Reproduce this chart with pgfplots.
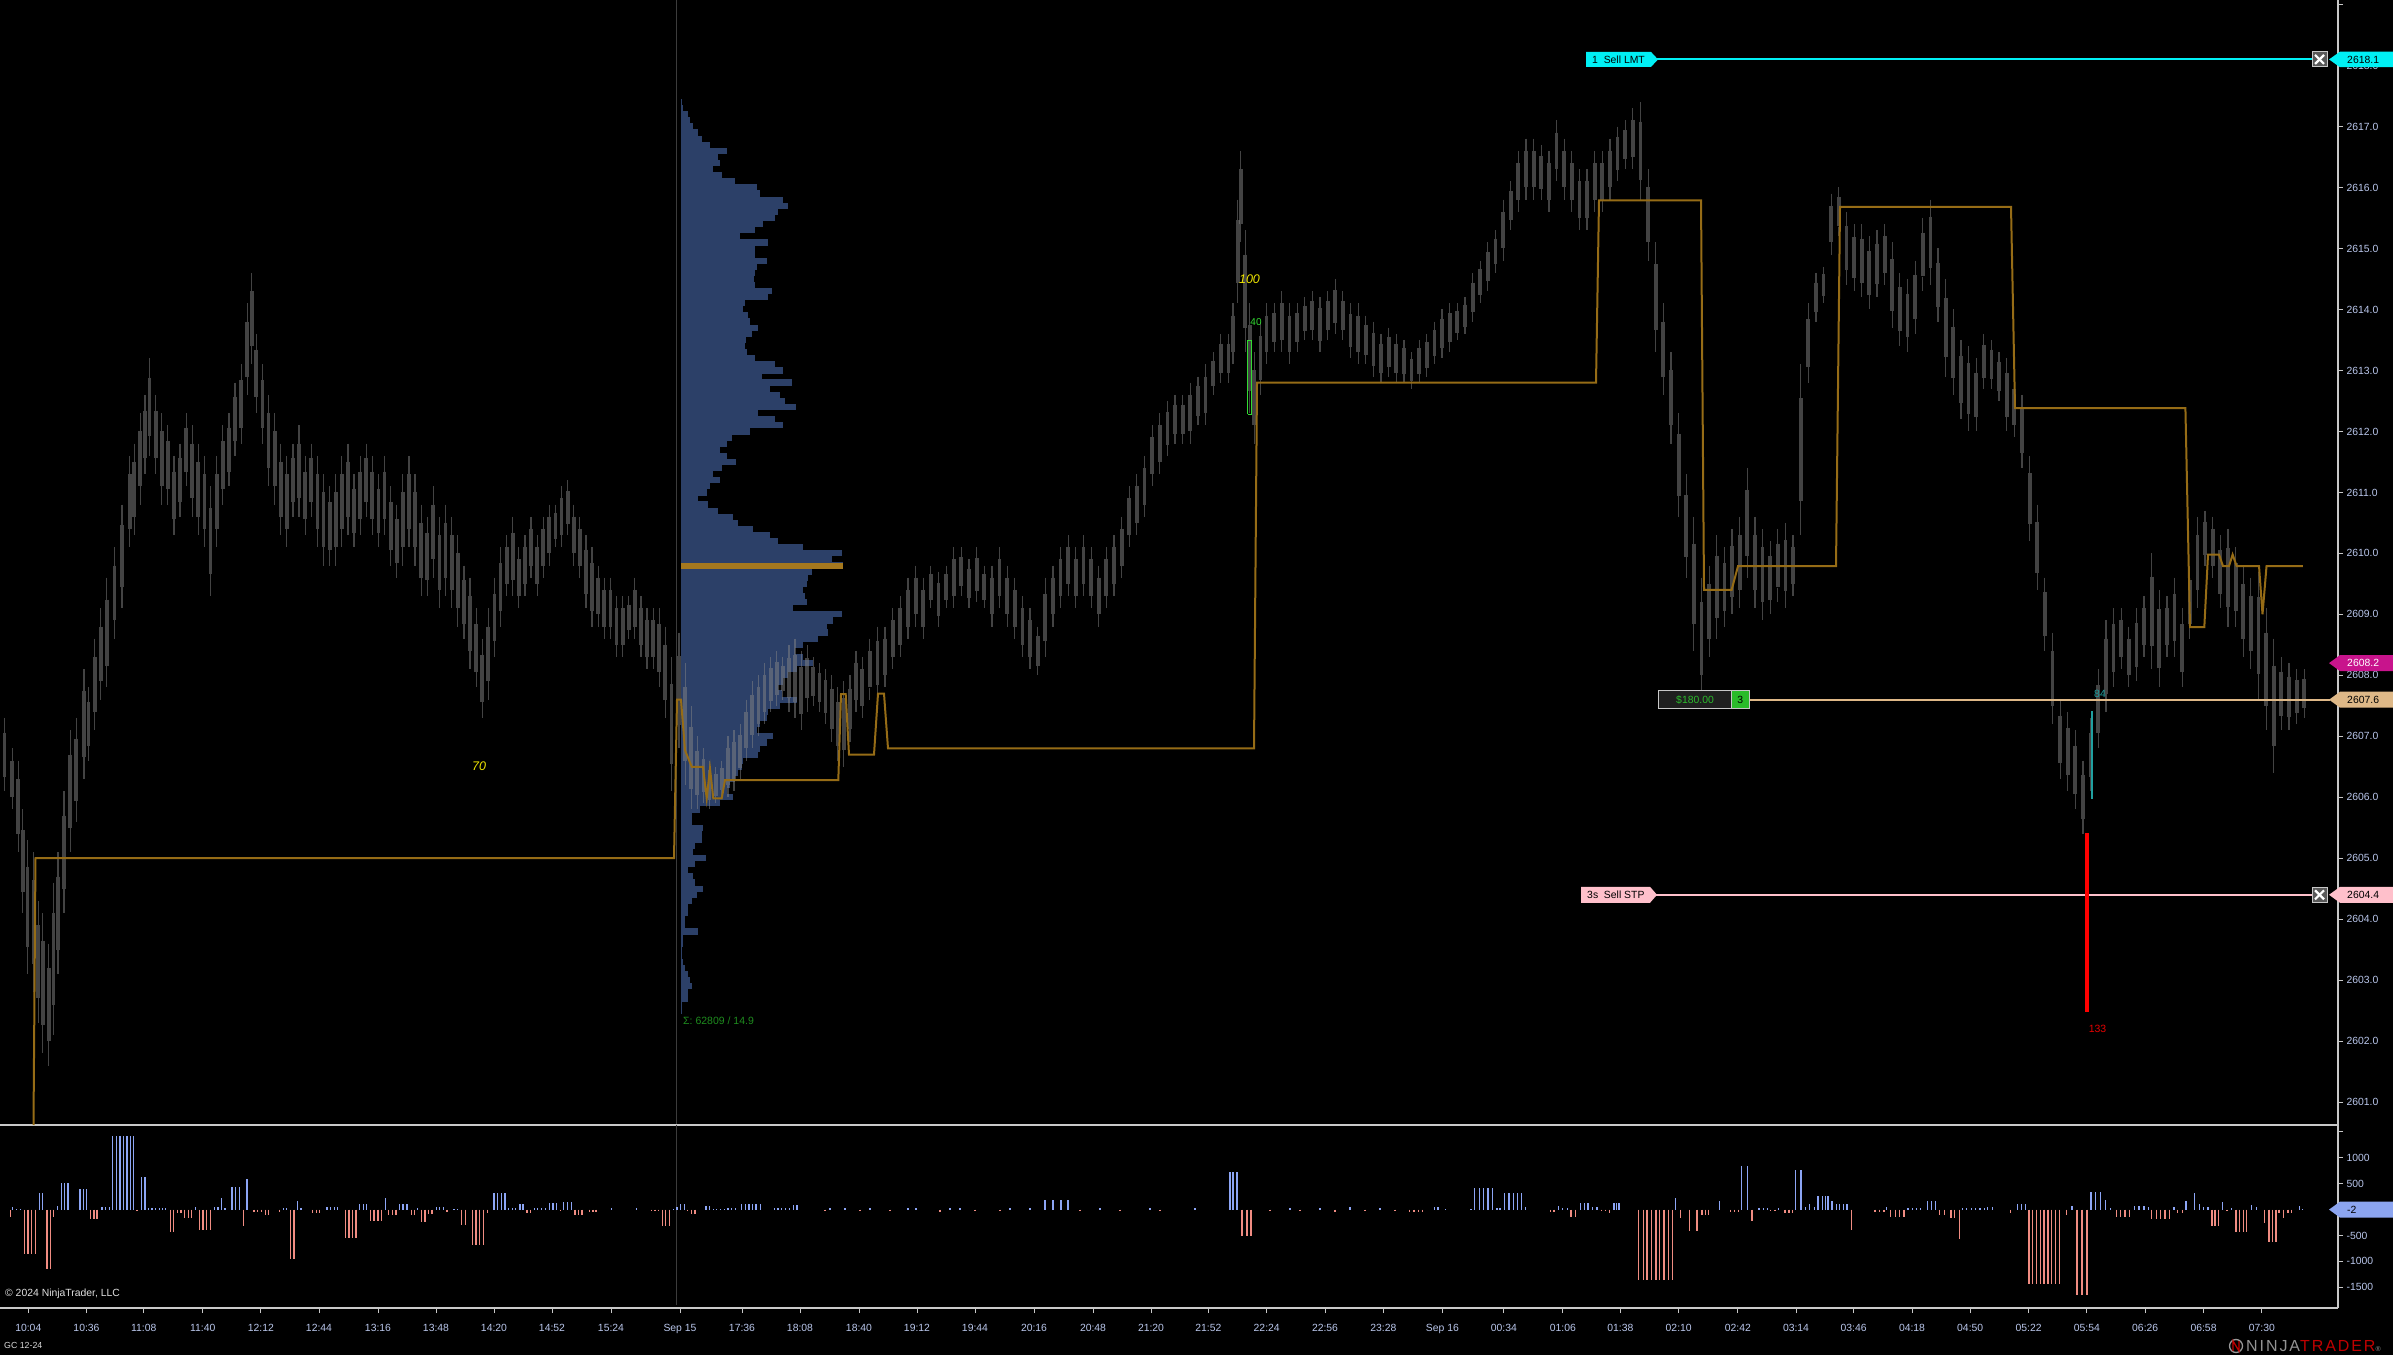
\documentclass[border=0pt]{standalone}
\usepackage{pgfplots}
\pgfplotsset{compat=1.18}
\usepackage{pgfplotstable}
\usepackage{fontspec}
\setmainfont{Liberation Sans}
\newfontfamily\logofont{Liberation Sans}[LetterSpace=12]
\definecolor{axc}{RGB}{200,200,200}
\definecolor{labc}{RGB}{185,198,235}
\definecolor{candle}{RGB}{135,135,135}
\definecolor{prof}{RGB}{44,64,104}
\definecolor{poc}{RGB}{165,120,30}
\definecolor{vwap}{RGB}{150,108,22}
\definecolor{dpos}{RGB}{140,165,245}
\definecolor{dneg}{RGB}{240,140,130}
\definecolor{lmt}{RGB}{0,240,245}
\definecolor{stp}{RGB}{255,192,203}
\definecolor{posc}{RGB}{222,184,135}
\definecolor{mag}{RGB}{200,20,140}
\definecolor{dtag}{RGB}{140,165,240}
\definecolor{sepc}{RGB}{60,60,60}
\definecolor{yel}{RGB}{240,230,0}
\definecolor{grn}{RGB}{50,220,50}
\definecolor{sig}{RGB}{30,140,30}
\definecolor{tealc}{RGB}{32,160,160}
\newcommand{\tickfont}{\fontsize{10.4}{12}\selectfont}

\pgfplotstableread{
x h l
3 2607.3 2606.1
8 2606.8 2605.8
12 2606.6 2605.1
15 2605.8 2604.1
18 2605.3 2603.1
22 2605.1 2602.8
25 2604.3 2602.3
28 2604.1 2601.8
32 2603.6 2601.6
35 2604.6 2602.1
38 2605.1 2603.1
42 2606.1 2604.1
46 2607.1 2605.1
50 2607.3 2605.6
55 2608.1 2606.3
58 2607.8 2606.6
62 2608.6 2607.1
66 2609.1 2607.6
70 2609.6 2607.8
75 2610.1 2608.6
80 2610.8 2609.1
85 2611.6 2610.1
88 2611.8 2610.3
92 2612.3 2610.8
95 2612.6 2611.3
98 2613.2 2611.6
102 2612.6 2611.3
106 2612.3 2610.8
110 2612.1 2610.8
114 2611.6 2610.3
118 2611.8 2610.6
122 2612.3 2611.1
126 2612.1 2610.6
130 2611.8 2610.3
134 2611.6 2610.1
138 2611.1 2609.3
142 2611.6 2610.1
146 2612.1 2610.8
150 2612.3 2611.1
154 2612.8 2611.6
158 2613.1 2611.8
162 2614.1 2612.6
165 2614.6 2613.1
168 2613.6 2612.3
172 2613.1 2611.8
176 2612.6 2611.1
180 2612.3 2610.8
184 2611.8 2610.3
188 2611.6 2610.1
192 2611.8 2610.6
196 2612.1 2610.6
200 2611.6 2610.3
204 2611.8 2610.6
208 2611.6 2610.1
212 2611.3 2609.8
216 2611.1 2609.8
220 2611.3 2609.8
224 2611.6 2610.1
228 2611.8 2610.3
232 2611.3 2610.1
236 2611.6 2610.3
240 2611.8 2610.6
244 2611.6 2610.3
248 2611.3 2610.1
252 2611.6 2610.3
256 2611.1 2609.8
260 2610.8 2609.6
264 2611.3 2609.8
268 2611.6 2610.1
272 2611.3 2609.8
276 2610.8 2609.3
280 2610.6 2609.3
284 2611.1 2609.6
288 2610.6 2609.1
292 2610.8 2609.3
296 2610.6 2609.1
300 2610.3 2608.8
304 2609.8 2608.6
308 2609.6 2608.1
312 2609.1 2607.8
316 2608.6 2607.3
320 2609.1 2607.6
324 2609.6 2608.3
328 2610.1 2608.8
332 2610.3 2609.3
336 2610.6 2609.3
340 2610.1 2609.1
344 2610.3 2609.3
348 2610.6 2609.6
352 2610.3 2609.3
356 2610.6 2609.6
360 2610.8 2609.8
364 2610.8 2610.1
368 2611.1 2610.1
372 2611.2 2610.3
376 2610.8 2609.8
380 2610.6 2609.6
384 2610.3 2609.1
388 2610.1 2608.8
392 2609.8 2608.8
396 2609.6 2608.6
400 2609.6 2608.6
404 2609.3 2608.3
408 2609.3 2608.3
412 2609.3 2608.6
416 2609.6 2608.6
420 2609.3 2608.3
424 2609.1 2608.1
428 2609.1 2608.1
432 2609.1 2607.8
436 2608.8 2607.3
440 2608.3 2606.1
445 2608.7 2606.8
449 2608.2 2606.2
453 2607.5 2605.8
457 2607.0 2605.8
461 2606.8 2605.9
465 2606.6 2605.8
469 2606.5 2605.9
473 2606.6 2606.0
477 2607.0 2606.0
481 2607.1 2606.1
485 2607.2 2606.3
489 2607.6 2606.6
493 2607.9 2606.8
497 2608.0 2607.0
501 2608.2 2607.2
505 2608.3 2607.4
509 2608.4 2607.5
513 2608.3 2607.6
517 2608.5 2607.4
521 2608.6 2607.3
525 2608.4 2607.1
529 2608.5 2607.4
533 2608.3 2607.5
537 2608.2 2607.4
541 2608.1 2607.2
545 2608.0 2606.9
549 2607.8 2606.6
553 2607.9 2606.5
557 2608.0 2606.9
561 2608.4 2607.4
565 2608.3 2607.3
570 2608.6 2607.6
575 2608.8 2607.6
580 2608.8 2607.8
585 2609.1 2608.1
590 2609.3 2608.3
595 2609.6 2608.6
600 2609.8 2608.8
605 2609.6 2608.6
610 2609.8 2609.1
615 2609.7 2608.8
620 2609.8 2609.1
625 2610.1 2609.1
630 2610.1 2609.3
635 2609.9 2609.1
640 2610.1 2609.2
645 2609.8 2609.1
650 2609.8 2608.8
655 2610.1 2609.1
660 2609.8 2608.8
665 2609.6 2608.6
670 2609.3 2608.3
675 2609.1 2608.1
680 2608.8 2608.0
685 2609.6 2608.3
690 2609.8 2608.8
695 2610.1 2609.1
700 2610.3 2609.3
705 2610.1 2609.1
710 2610.3 2609.3
715 2610.1 2609.1
720 2609.8 2608.8
725 2610.1 2609.1
730 2610.3 2609.3
735 2610.6 2609.6
740 2611.1 2610.1
745 2611.3 2610.3
750 2611.6 2610.6
755 2612.1 2611.1
760 2612.3 2611.3
765 2612.5 2611.6
770 2612.6 2611.8
775 2612.6 2611.8
780 2612.8 2611.8
785 2612.9 2612.1
790 2613.1 2612.1
795 2613.3 2612.6
800 2613.6 2612.8
805 2613.6 2612.8
808 2614.1 2613.1
811 2615.8 2614.1
813 2616.6 2615.1
816 2615.3 2613.3
819 2614.1 2612.3
822 2613.3 2611.8
826 2613.8 2612.6
830 2614.1 2613.1
835 2614.1 2613.3
840 2614.3 2613.3
845 2614.1 2613.1
850 2614.1 2613.3
855 2614.2 2613.5
860 2614.3 2613.5
865 2614.2 2613.3
870 2614.3 2613.5
875 2614.5 2613.6
880 2614.3 2613.5
885 2614.1 2613.2
890 2614.1 2613.1
895 2613.9 2613.1
900 2613.8 2612.9
905 2613.6 2612.8
910 2613.7 2612.9
915 2613.6 2612.8
920 2613.5 2612.8
925 2613.3 2612.7
930 2613.5 2612.8
935 2613.6 2612.9
940 2613.8 2613.1
945 2614.0 2613.2
950 2614.1 2613.3
955 2614.1 2613.5
960 2614.2 2613.6
965 2614.6 2613.8
970 2614.8 2614.1
975 2615.1 2614.3
980 2615.3 2614.6
985 2615.8 2614.8
990 2616.1 2615.3
995 2616.6 2615.6
1000 2616.8 2615.8
1005 2616.8 2615.8
1010 2616.7 2615.8
1015 2616.6 2615.6
1020 2617.1 2616.1
1025 2616.8 2615.8
1030 2616.6 2615.6
1035 2616.3 2615.3
1040 2616.3 2615.3
1045 2616.6 2615.6
1050 2616.6 2615.6
1055 2616.8 2615.8
1060 2617.0 2616.1
1065 2617.1 2616.3
1070 2617.3 2616.3
1075 2617.4 2615.8
1080 2616.3 2614.8
1085 2615.1 2613.3
1090 2614.1 2612.6
1095 2613.3 2611.8
1100 2612.3 2610.6
1105 2611.3 2609.6
1110 2610.6 2608.4
1115 2609.6 2607.6
1120 2609.8 2608.3
1125 2610.3 2608.6
1130 2610.1 2608.8
1135 2610.4 2609.0
1140 2610.6 2609.1
1145 2611.4 2609.6
1150 2610.6 2609.1
1155 2610.4 2608.9
1160 2610.2 2609.0
1165 2610.4 2609.2
1170 2610.5 2609.1
1175 2610.3 2609.3
1180 2613.1 2610.3
1185 2614.1 2612.8
1190 2614.6 2613.8
1195 2614.7 2614.1
1200 2615.9 2614.9
1205 2616.0 2615.2
1210 2615.6 2614.4
1215 2615.4 2614.3
1220 2615.4 2614.2
1225 2615.2 2614.0
1230 2615.3 2614.2
1235 2615.4 2614.4
1240 2615.1 2613.7
1245 2614.6 2613.4
1250 2614.5 2613.3
1255 2614.8 2613.6
1260 2615.5 2614.3
1265 2615.8 2614.4
1270 2615.0 2613.8
1275 2614.5 2612.9
1280 2614.0 2612.6
1285 2613.5 2612.2
1290 2613.4 2612.0
1295 2613.2 2612.0
1300 2613.6 2612.7
1305 2613.5 2612.7
1310 2613.3 2612.5
1315 2613.2 2612.0
1320 2612.9 2611.9
1325 2612.6 2611.4
1330 2611.6 2610.2
1335 2610.8 2609.4
1340 2609.6 2608.4
1345 2608.7 2607.2
1350 2607.6 2606.3
1355 2607.4 2606.1
1360 2607.1 2605.8
1365 2606.6 2605.4
1370 2607.3 2606.1
1375 2608.1 2606.8
1380 2608.9 2607.4
1385 2609.1 2607.8
1390 2609.1 2608.1
1395 2608.8 2607.8
1400 2609.1 2607.9
1405 2609.3 2608.3
1410 2610.0 2608.1
1415 2609.4 2607.8
1420 2609.3 2608.3
1425 2609.6 2608.3
1430 2609.1 2607.8
1435 2609.8 2608.6
1440 2610.6 2609.1
1445 2610.7 2609.8
1450 2610.6 2609.6
1455 2610.3 2609.1
1460 2610.4 2608.8
1465 2610.1 2608.8
1470 2609.8 2608.3
1475 2609.6 2608.1
1480 2609.7 2607.6
1485 2609.1 2607.1
1490 2608.6 2606.4
1495 2608.3 2607.1
1500 2608.2 2607.1
1505 2608.1 2607.2
1510 2608.1 2607.3
}\candles

\pgfplotstableread{
p w
2617.4 1
2617.3 2.3
2617.2 7.3
2617.1 9
2617.0 12.3
2616.9 17.3
2616.8 20.7
2616.7 29
2616.6 45.7
2616.5 37.3
2616.4 39
2616.3 32.3
2616.2 40.7
2616.1 54
2616.0 75.7
2615.9 79
2615.8 102.3
2615.7 107.3
2615.6 97.3
2615.5 94
2615.4 82.3
2615.3 74
2615.2 59
2615.1 87.3
2615.0 74
2614.9 74
2614.8 85.7
2614.7 75.7
2614.6 74
2614.5 73
2614.4 74
2614.3 90.7
2614.2 87.3
2614.1 64
2614.0 62.3
2613.9 67.3
2613.8 69
2613.7 76.7
2613.6 70.7
2613.5 65
2613.4 64
2613.3 66.3
2613.2 74
2613.1 94
2613.0 102.3
2612.9 80.7
2612.8 110.7
2612.7 89
2612.6 99
2612.5 104
2612.4 115
2612.3 77.3
2612.2 94
2612.1 101.7
2612.0 69
2611.9 50.7
2611.8 45.7
2611.7 39
2611.6 45.7
2611.5 55
2611.4 40.7
2611.3 32.3
2611.2 39
2611.1 29
2611.0 25.7
2610.9 17.3
2610.8 27.3
2610.7 37.3
2610.6 52.3
2610.5 57.3
2610.4 72.3
2610.3 89
2610.2 97.3
2610.1 122.3
2610.0 160.7
2609.9 150.7
2609.8 161.7
2609.7 130.7
2609.6 127.3
2609.5 125.7
2609.4 122.3
2609.3 124
2609.2 125.7
2609.1 112.3
2609.0 160.7
2608.9 152.3
2608.8 145.7
2608.7 147.3
2608.6 137.3
2608.5 122.3
2608.4 114
2608.3 122.3
2608.2 132.3
2608.1 115.7
2608.0 107.3
2607.9 102.3
2607.8 97.3
2607.7 100.7
2607.6 115.7
2607.5 99
2607.4 87.3
2607.3 85.7
2607.2 79
2607.1 75.7
2607.0 92.3
2606.9 85.7
2606.8 79
2606.7 77.3
2606.6 62.3
2606.5 60.7
2606.4 57.3
2606.3 54
2606.2 49
2606.1 45.7
2606.0 52.3
2605.9 39
2605.8 19
2605.7 10.7
2605.6 10.7
2605.5 22.3
2605.4 20.7
2605.3 20.7
2605.2 14
2605.1 12.3
2605.0 25
2604.9 14
2604.8 7.3
2604.7 12.3
2604.6 14
2604.5 22.3
2604.4 15.7
2604.3 10.7
2604.2 7.3
2604.1 7.3
2604.0 4
2603.9 4
2603.8 17.3
2603.7 2.3
2603.6 2.3
2603.5 0.7
2603.4 0.7
2603.3 2.3
2603.2 4
2603.1 7.3
2603.0 9
2602.9 10.7
2602.8 7.3
2602.7 7.3
2602.6 0.7
2602.5 0.7
}\profile

\pgfplotstableread{
x v
12.8 40
16.8 10
20.4 10
39.8 324
42.3 324
57.7 70
61.7 511
64.8 511
67.9 511
80.1 395
83.7 395
86.7 395
102 55
105.6 55
109.2 55
112.8 1418
116.3 1418
119.9 1418
123.5 1418
127 1418
130.6 1418
133.7 1418
141.3 627
144.9 627
148.5 30
152 30
155.6 30
159.2 30
162.8 30
165.8 30
195.4 40
214.3 50
217.9 50
221.4 222
225 30
232.1 434
235.7 434
239.3 434
246.9 588
283.2 30
286.7 30
297.4 164
301 30
327 40
330.6 40
334.2 40
337.8 40
359.7 112
363.3 112
366.8 112
385.2 222
399.5 112
403 112
407.1 112
417.3 30
436.2 42
439.8 42
443.4 42
454 10
457.7 10
493.9 324
497.4 324
501.5 324
505.1 324
508.7 20
512.2 20
515.8 20
519.9 112
523 112
534.2 30
537.8 30
541.8 30
545.4 30
549.5 125
553.1 125
556.6 125
563.8 144
567.3 144
571.4 144
611.7 20
636.2 20
673.5 10
677 40
680.6 100
684.2 100
706.1 70
709.7 70
713.3 15
716.8 15
720.4 15
724.5 15
728 30
731.6 30
735.2 30
741.8 112
745.4 112
749 112
752.6 112
756.1 112
760.7 112
774.5 20
778 20
781.6 20
785.7 20
789.3 20
793.4 90
797 90
830 20
845 30
870 20
908 20
916 20
950 30
960 30
1010 20
1030 20
1045 180
1053 180
1061 180
1068 180
1100 20
1150 20
1195 30
1230 723
1233 723
1237 723
1290 30
1320 20
1350 40
1380 20
1434.8 40
1438 40
1445.6 15
1470.9 15
1474.7 415
1479.2 415
1483.6 415
1488 415
1492.5 415
1496.9 20
1500.1 20
1504.5 318
1508.9 318
1513.4 318
1517.8 318
1521.6 318
1525.4 40
1558.3 60
1562.8 20
1567.2 20
1580.5 125
1584.3 125
1588.1 125
1592.5 50
1597 50
1614.1 125
1616.6 125
1619.1 125
1675.5 222
1719.2 164
1741.4 839
1747.7 839
1759.1 20
1763.5 20
1767.3 20
1778.7 30
1795.8 762
1800.9 762
1805.3 40
1809.8 112
1814.2 40
1818 260
1822.4 260
1825.6 260
1828.1 260
1831.9 170
1836.3 112
1839.5 112
1843.3 112
1847.1 112
1886.4 40
1907.9 20
1912.3 20
1916.8 20
1920.6 20
1927.5 164
1931.3 164
1935.8 164
1962.4 20
1966.8 20
1971.2 20
1975.7 20
1980.1 20
1984.6 20
1987.7 40
1992.2 40
2017.5 100
2021.3 100
2025.7 100
2071.9 60
2091 338
2095.4 338
2100.4 338
2105.5 183
2110.6 20
2134.6 60
2139.1 60
2144.1 60
2148.6 40
2173.9 40
2185.9 164
2194.8 318
2199.3 112
2203.7 40
2208.1 40
2222.7 144
2231.5 20
2251.8 80
2256.2 40
2299.3 60
2302.5 15
}\dposdata

\pgfplotstableread{
x v
10.2 -150
24.5 -852
28 -852
31.6 -852
35.2 -852
46.9 -1142
50.5 -1142
53.6 -150
90.3 -177
93.9 -177
96.9 -177
137 -30
170.4 -428
173.5 -428
177.6 -60
181 -60
184.7 -158
188.3 -158
191.8 -158
199.5 -390
203 -390
206.6 -390
210.2 -390
243.4 -312
254 -40
257.7 -40
261.7 -40
265.3 -100
268.4 -100
279.6 -40
290.3 -949
293.9 -949
312.8 -60
316.3 -60
319.4 -60
345.4 -544
349 -544
352.6 -544
356.1 -544
370.4 -216
374 -216
378 -216
381.6 -216
388.8 -106
392.3 -106
395.9 -106
411.2 -106
414.3 -106
421.4 -235
425 -235
428.6 -90
432.1 -90
447 -40
461.7 -293
465.3 -293
472.4 -679
476 -679
479.6 -679
483.7 -679
487.2 -70
527 -60
530.6 -60
560.2 -30
575 -106
578.6 -106
582.1 -106
589.3 -50
592.9 -50
595.9 -50
651.5 -20
655.1 -20
658.2 -20
662.2 -312
665.8 -312
669.4 -312
687.8 -30
691.3 -90
694.9 -90
825 -30
860 -20
890 -30
940 -40
975 -20
1000 -30
1080 -20
1120 -30
1160 -20
1242 -511
1247 -511
1251 -511
1270 -30
1300 -20
1335 -40
1365 -20
1395 -30
1409.5 -40
1413.9 -40
1418.4 -40
1422.2 -40
1550.7 -40
1553.9 -40
1571 -150
1575.4 -150
1601.4 -30
1605.8 -30
1609.6 -60
1638.8 -1354
1643.2 -1354
1647 -1354
1651.4 -1354
1655.9 -1354
1659.7 -1354
1664.1 -1354
1668.5 -1354
1672.3 -1354
1680.6 -158
1689.4 -409
1697 -409
1702 -106
1705.3 -106
1708.4 -106
1730.6 -50
1734.4 -50
1738.2 -50
1752.1 -216
1770.5 -30
1774.9 -30
1785 -70
1788.9 -70
1792.7 -70
1851.6 -390
1875 -40
1879.4 -40
1883.9 -40
1890.8 -150
1895.3 -150
1899.7 -150
1904.1 -150
1939.6 -106
1944.6 -106
1951 -158
1954.8 -158
1959.2 -561
2010.5 -60
2028.9 -1437
2032.7 -1437
2036.5 -1437
2040.3 -1437
2044.1 -1437
2047.9 -1437
2051.7 -1437
2055.5 -1437
2059.3 -1437
2066.2 -106
2077 -1643
2082.1 -1643
2087.1 -1643
2116.3 -150
2120.7 -150
2125.1 -150
2129.6 -150
2151.7 -177
2156.2 -177
2160.6 -177
2165 -177
2169.5 -177
2177.7 -60
2182.8 -60
2211.9 -325
2215.1 -325
2218.2 -325
2227.1 -20
2236 -428
2239.8 -428
2243.6 -428
2246.7 -428
2264.5 -255
2268.9 -621
2272.7 -621
2275.9 -621
2279 -60
2283.5 -158
2287.9 -60
2291.7 -60
}\dnegdata

\newcommand{\rtag}[5]{%
  \fill[#2] (axis cs:2329,#1) -- ([yshift=#5]axis cs:2340,#1) -- ([yshift=#5]axis cs:2393,#1) -- ([yshift=-#5]axis cs:2393,#1) -- ([yshift=-#5]axis cs:2340,#1) -- cycle;
  \node[anchor=west, text=#3, font=\tickfont, inner sep=0pt, text height=7.5pt, text depth=0pt] at (axis cs:2347,#1) {#4};
}
\newcommand{\xbox}[1]{%
  \filldraw[fill=black!65, draw=axc, line width=1pt] ([shift={(-7.5pt,-7.5pt)}]axis cs:2319.5,#1) rectangle ([shift={(7.5pt,7.5pt)}]axis cs:2319.5,#1);
  \draw[white, line width=2.2pt] ([shift={(-4.5pt,-4.5pt)}]axis cs:2319.5,#1) -- ([shift={(4.5pt,4.5pt)}]axis cs:2319.5,#1);
  \draw[white, line width=2.2pt] ([shift={(-4.5pt,4.5pt)}]axis cs:2319.5,#1) -- ([shift={(4.5pt,-4.5pt)}]axis cs:2319.5,#1);
}

\pgfplotsset{
  mainbox/.style={at={(0pt,230pt)}, anchor=south west, width=2338pt, height=1125pt, scale only axis,
    xmin=0, xmax=2338, ymin=2600.625, ymax=2619.075, clip=false},
  candlebar/.style={draw=none, mark=none, forget plot,
    error bars/.cd, y dir=minus, y explicit, error mark=none,
    error bar style={draw=candle, draw opacity=0.5, solid, line width=#1}},
}

\begin{document}
\begin{tikzpicture}
\path[use as bounding box, fill=black] (0,0) rectangle (2393pt,1355pt);

% ---------------- main price panel ----------------
\begin{axis}[mainbox,
  axis x line=none, axis y line*=right,
  axis line style={draw=axc, line width=1.2pt},
  ytick={2601,2602,...,2618}, extra y ticks={2619}, extra y tick labels={},
  tick align=outside, major tick length=5pt,
  tick style={draw=axc, line width=1pt},
  yticklabel style={font=\tickfont, text=labc, /pgf/number format/fixed, /pgf/number format/fixed zerofill, /pgf/number format/precision=1, /pgf/number format/1000 sep={}, /pgf/number format/assume math mode=true},
]
\draw[sepc, line width=1pt] (axis cs:676,2600.625) -- (axis cs:676,2619.075);
\draw[axc, line width=1.5pt] (axis cs:0,2600.625) -- (axis cs:2338,2600.625);
% volume profile
\addplot[draw=none, mark=none, forget plot, error bars/.cd, x dir=plus, x explicit, error mark=none,
  error bar style={draw=prof, solid, line width=6.3pt}]
  table[x expr=681, y=p, x error plus=w] \profile;
\addplot[poc, line width=6pt, mark=none] coordinates {(681,2609.8) (843,2609.8)};
% candles: upper wick, lower wick, body
\addplot[candlebar=1.2pt] table[x expr=\thisrow{x}*1.526, y=h, y error minus expr=0.2*(\thisrow{h}-\thisrow{l})] \candles;
\addplot[candlebar=1.2pt] table[x expr=\thisrow{x}*1.526, y expr=\thisrow{l}+0.2*(\thisrow{h}-\thisrow{l}), y error minus expr=0.2*(\thisrow{h}-\thisrow{l})] \candles;
\addplot[candlebar=3.8pt] table[x expr=\thisrow{x}*1.526, y expr=\thisrow{h}-0.2*(\thisrow{h}-\thisrow{l}), y error minus expr=0.6*(\thisrow{h}-\thisrow{l})] \candles;
% session level line
\addplot[vwap, line width=2pt, mark=none] coordinates {
(33.5,2600.625) (35.5,2605.0) (674,2605.0) (677,2607.6) (681,2607.6) (685,2606.77) (691.7,2606.5)
(703,2606.5) (706.7,2605.98) (710,2606.47) (713.3,2605.98) (721.7,2605.98) (725,2606.28)
(838.3,2606.28) (841,2607.69) (845.7,2607.69) (849,2606.7) (874,2606.7) (878,2607.7) (884,2607.7)
(888,2606.8) (1254,2606.8) (1257,2612.8) (1596,2612.8) (1599,2615.79) (1701,2615.79) (1704,2609.4)
(1731.6,2609.4) (1738,2609.79) (1836,2609.79) (1840,2615.68) (2011,2615.68) (2015,2612.38) (2185.4,2612.38)
(2190,2608.79) (2204.3,2608.79) (2208,2609.98) (2219,2609.98) (2223,2609.79) (2229,2609.79) (2232.6,2609.98)
(2236.6,2609.79) (2259,2609.79) (2262.5,2609.0) (2266.5,2609.79) (2302.8,2609.79)};
\end{axis}

% ---------------- overlay (orders, markers, tags) ----------------
\begin{axis}[mainbox, hide axis]
\addplot[lmt, line width=2pt, mark=none] coordinates {(1655,2618.1) (2312,2618.1)};
\addplot[stp, line width=2pt, mark=none] coordinates {(1655,2604.4) (2312,2604.4)};
\addplot[posc, line width=2pt, mark=none] coordinates {(1750,2607.6) (2330,2607.6)};
\addplot[tealc, line width=2pt, mark=none] coordinates {(2092,2605.97) (2092,2607.41)};
\addplot[red, line width=4.5pt, mark=none] coordinates {(2087,2602.48) (2087,2605.41)};
\addplot[grn, line width=1.5pt, mark=none] coordinates {(1247.5,2612.28) (1247.5,2613.49) (1251.5,2613.49) (1251.5,2612.28) (1247.5,2612.28)};
% order labels
\fill[lmt] ([yshift=-7.5pt]axis cs:1586,2618.1) -- ([yshift=7.5pt]axis cs:1586,2618.1) -- ([yshift=7.5pt]axis cs:1651,2618.1) -- (axis cs:1658,2618.1) -- ([yshift=-7.5pt]axis cs:1651,2618.1) -- cycle;
\node[anchor=west, font=\tickfont, text=black, inner sep=0pt, text height=7.5pt, text depth=0pt] at (axis cs:1592,2618.1) {1\ \ Sell LMT};
\fill[stp] ([yshift=-8pt]axis cs:1581,2604.4) -- ([yshift=8pt]axis cs:1581,2604.4) -- ([yshift=8pt]axis cs:1650,2604.4) -- (axis cs:1657,2604.4) -- ([yshift=-8pt]axis cs:1650,2604.4) -- cycle;
\node[anchor=west, font=\tickfont, text=black, inner sep=0pt, text height=7.5pt, text depth=0pt] at (axis cs:1587,2604.4) {3s\ \ Sell STP};
\filldraw[fill=black!88, draw=axc, line width=1pt] ([yshift=-9.3pt]axis cs:1658.6,2607.6) rectangle ([yshift=9.3pt]axis cs:1731,2607.6);
\filldraw[fill=grn!85!black, draw=axc, line width=1pt] ([yshift=-9.3pt]axis cs:1731,2607.6) rectangle ([yshift=9.3pt]axis cs:1749.5,2607.6);
\node[font=\tickfont, text=grn!85!black, inner sep=0pt, text height=7.5pt, text depth=0pt] at (axis cs:1695,2607.6) {\$180.00};
\node[font=\tickfont, text=black, inner sep=0pt, text height=7.5pt, text depth=0pt] at (axis cs:1740.3,2607.6) {3};
% cancel boxes
\xbox{2618.1}
\xbox{2604.4}
% right price tags
\rtag{2618.1}{lmt}{black}{2618.1}{7.8pt}
\rtag{2608.2}{mag}{white}{2608.2}{8pt}
\rtag{2607.6}{posc}{black}{2607.6}{8pt}
\rtag{2604.4}{stp}{black}{2604.4}{8pt}
% markers text
\node[text=yel, font=\fontsize{12.5}{14}\selectfont\itshape] at (axis cs:479,2606.51) {70};
\node[text=yel, font=\fontsize{12.5}{14}\selectfont\itshape] at (axis cs:1249.5,2614.5) {100};
\node[text=grn, font=\fontsize{10}{12}\selectfont] at (axis cs:1256,2613.8) {40};
\node[text=tealc, font=\fontsize{10.5}{12}\selectfont] at (axis cs:2100,2607.7) {84};
\node[text=red!90!black, font=\fontsize{10.5}{12}\selectfont] at (axis cs:2097.5,2602.2) {133};
\node[anchor=west, text=sig, font=\fontsize{10.5}{12}\selectfont, inner sep=0pt] at (axis cs:683,2602.33) {Σ: 62809 / 14.9};
\end{axis}

% ---------------- delta panel ----------------
\begin{axis}[at={(0pt,47pt)}, anchor=south west, width=2338pt, height=183pt, scale only axis,
  xmin=0, xmax=2338, ymin=-1900, ymax=1630, clip=false,
  axis x line*=bottom, axis y line*=right,
  axis line style={draw=axc, line width=1.2pt},
  tick align=outside, major tick length=5pt,
  tick style={draw=axc, line width=1pt},
  ytick={-1500,-1000,-500,500,1000}, extra y ticks={1500}, extra y tick labels={},
  yticklabel style={font=\tickfont, text=labc, /pgf/number format/1000 sep={}, /pgf/number format/assume math mode=true},
  xtick={28.3,86.5,143.8,202.8,260.9,319,378,436,494,552,611,680,742,800,859,917,975,1034,1093,1151,1208.4,1266.7,1325,1383.3,1442.4,1503.8,1562.9,1620.4,1678.7,1737.8,1796,1853.6,1912,1970.2,2028.6,2086.9,2145.2,2203.5,2261.8},
  xticklabels={10:04,10:36,11:08,11:40,12:12,12:44,13:16,13:48,14:20,14:52,15:24,Sep 15,17:36,18:08,18:40,19:12,19:44,20:16,20:48,21:20,21:52,22:24,22:56,23:28,Sep 16,00:34,01:06,01:38,02:10,02:42,03:14,03:46,04:18,04:50,05:22,05:54,06:26,06:58,07:30},
  xticklabel style={font=\tickfont, text=labc, yshift=-7.5pt},
]
\draw[sepc, line width=1pt] (axis cs:676,1630) -- (axis cs:676,-1842);
\addplot[ycomb, draw=dpos, line width=1.3pt, mark=none] table {\dposdata};
\addplot[ycomb, draw=dneg, line width=1.3pt, mark=none] table {\dnegdata};
\fill[dtag] (axis cs:2329,-2) -- ([yshift=8pt]axis cs:2340,-2) -- ([yshift=8pt]axis cs:2393,-2) -- ([yshift=-8pt]axis cs:2393,-2) -- ([yshift=-8pt]axis cs:2340,-2) -- cycle;
\node[anchor=west, text=black, font=\tickfont, inner sep=0pt, text height=7.5pt, text depth=0pt] at (axis cs:2347,-2) {-2};
\end{axis}

% ---------------- footer texts ----------------
\node[anchor=west, text=white!88!black, font=\tickfont, inner sep=0pt] at (5pt,61pt) {© 2024 NinjaTrader, LLC};
\node[anchor=west, text=white!85!black, font=\fontsize{8.8}{10}\selectfont, inner sep=0pt] at (4pt,10pt) {GC 12-24};
\draw[gray!80, line width=1.3pt] (2236pt,9pt) circle (6.5pt);
\draw[red!75!black, line width=1.3pt] (2233pt,4pt) -- (2233pt,14pt) -- (2239pt,4pt) -- (2239pt,14pt);
\node[anchor=west, inner sep=0pt, font=\logofont\fontsize{16}{18}\selectfont] at (2246pt,9pt) {\textcolor{gray!85}{NINJA}\textcolor{red!75!black}{TRADER}\textcolor{gray!85}{\fontsize{7}{8}\selectfont ®}};
\end{tikzpicture}
\end{document}
